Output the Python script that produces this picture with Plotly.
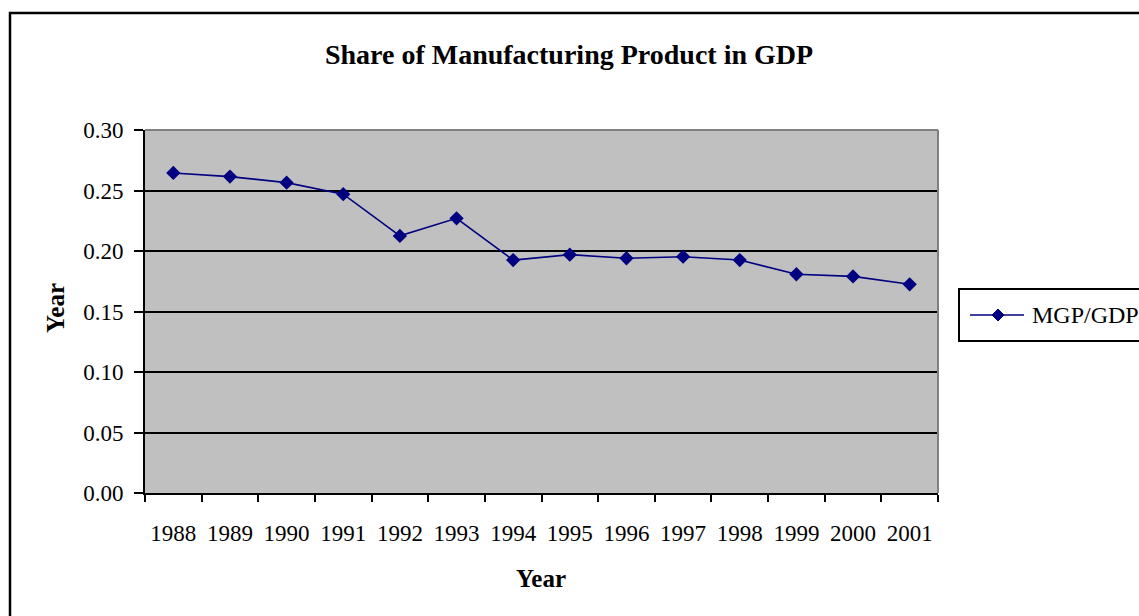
import plotly.graph_objects as go

years = ["1988", "1989", "1990", "1991", "1992", "1993", "1994",
         "1995", "1996", "1997", "1998", "1999", "2000", "2001"]
mgp_gdp = [0.2645, 0.2615, 0.2565, 0.2470, 0.2125, 0.2270, 0.1925,
           0.1970, 0.1940, 0.1953, 0.1925, 0.1808, 0.1790, 0.1725]
y_ticks = [0.00, 0.05, 0.10, 0.15, 0.20, 0.25, 0.30]
y_tick_text = ["0.00", "0.05", "0.10", "0.15", "0.20", "0.25", "0.30"]
series_name = "MGP/GDP"

FONT = "Liberation Serif"
W, H = 1139, 616
L, R, T, B = 145, 938, 130, 493
NAVY = "#000080"

def px(x):
    return (x - L) / (R - L)

def py(y):
    return (B - y) / (B - T)

fig = go.Figure()
fig.add_trace(go.Scatter(
    x=years, y=mgp_gdp, mode="lines+markers", name=series_name,
    line=dict(color=NAVY, width=1.6),
    marker=dict(symbol="diamond", size=11, color=NAVY),
    showlegend=False,
))

fig.update_layout(
    width=W, height=H,
    margin=dict(l=L, r=W - R, t=T, b=H - B, pad=0),
    paper_bgcolor="white",
    plot_bgcolor="#C0C0C0",
    font=dict(family=FONT, color="black", size=22),
    title=dict(text="<b>Share of Manufacturing Product in GDP</b>",
               font=dict(family=FONT, size=28, color="black"),
               x=569 / W, xref="container", xanchor="center",
               y=1 - 54 / H, yref="container", yanchor="middle"),
    showlegend=False,
)

fig.update_xaxes(
    type="category", range=[-0.5, 13.5], tickson="boundaries",
    showgrid=False, showline=True, linecolor="black", linewidth=2,
    ticks="outside", ticklen=7, tickwidth=1.5, tickcolor="black",
    ticklabelstandoff=18, tickfont=dict(family=FONT, size=23),
    zeroline=False,
)
fig.update_yaxes(
    range=[0, 0.30], tickvals=y_ticks, ticktext=y_tick_text,
    showgrid=True, gridcolor="black", gridwidth=1.6,
    showline=True, linecolor="black", linewidth=2,
    ticks="outside", ticklen=9, tickwidth=1.5, tickcolor="black",
    ticklabelstandoff=6, tickfont=dict(family=FONT, size=23),
    zeroline=False,
)

# legend drawn manually (box, line, diamond, label)
leg_y = py(315)
dx = 6 / (R - L)
dy = 6 / (B - T)
xc = px(998)
diamond = (f"M {xc} {leg_y + dy} L {xc + dx} {leg_y} "
           f"L {xc} {leg_y - dy} L {xc - dx} {leg_y} Z")

shapes = [
    # plot area top & right borders (gray)
    dict(type="line", xref="paper", yref="paper", x0=0, x1=1, y0=1, y1=1,
         line=dict(color="#808080", width=2)),
    dict(type="line", xref="paper", yref="paper", x0=1, x1=1, y0=0, y1=1,
         line=dict(color="#808080", width=2)),
    # outer chart border
    dict(type="rect", xref="paper", yref="paper",
         x0=px(10), x1=px(1160), y0=py(640), y1=py(13),
         line=dict(color="black", width=2.5), layer="below"),
    # legend box
    dict(type="rect", xref="paper", yref="paper",
         x0=px(959), x1=px(1160), y0=py(341), y1=py(289),
         line=dict(color="black", width=2)),
    dict(type="line", xref="paper", yref="paper",
         x0=px(970), x1=px(1024), y0=leg_y, y1=leg_y,
         line=dict(color=NAVY, width=1.6)),
    dict(type="path", xref="paper", yref="paper", path=diamond,
         fillcolor=NAVY, line=dict(color=NAVY, width=1)),
]
fig.update_layout(shapes=shapes)

fig.add_annotation(text=series_name, xref="paper", yref="paper",
                   x=px(1030), y=leg_y, showarrow=False,
                   font=dict(family=FONT, size=24, color="black"),
                   xanchor="left", yanchor="middle")
fig.add_annotation(text="<b>Year</b>", xref="paper", yref="paper",
                   x=px(55), y=py(308), textangle=-90, showarrow=False,
                   font=dict(family=FONT, size=25, color="black"),
                   xanchor="center", yanchor="middle")
fig.add_annotation(text="<b>Year</b>", xref="paper", yref="paper",
                   x=px(541), y=py(578), showarrow=False,
                   font=dict(family=FONT, size=25, color="black"),
                   xanchor="center", yanchor="middle")

fig.write_html("out.html")
